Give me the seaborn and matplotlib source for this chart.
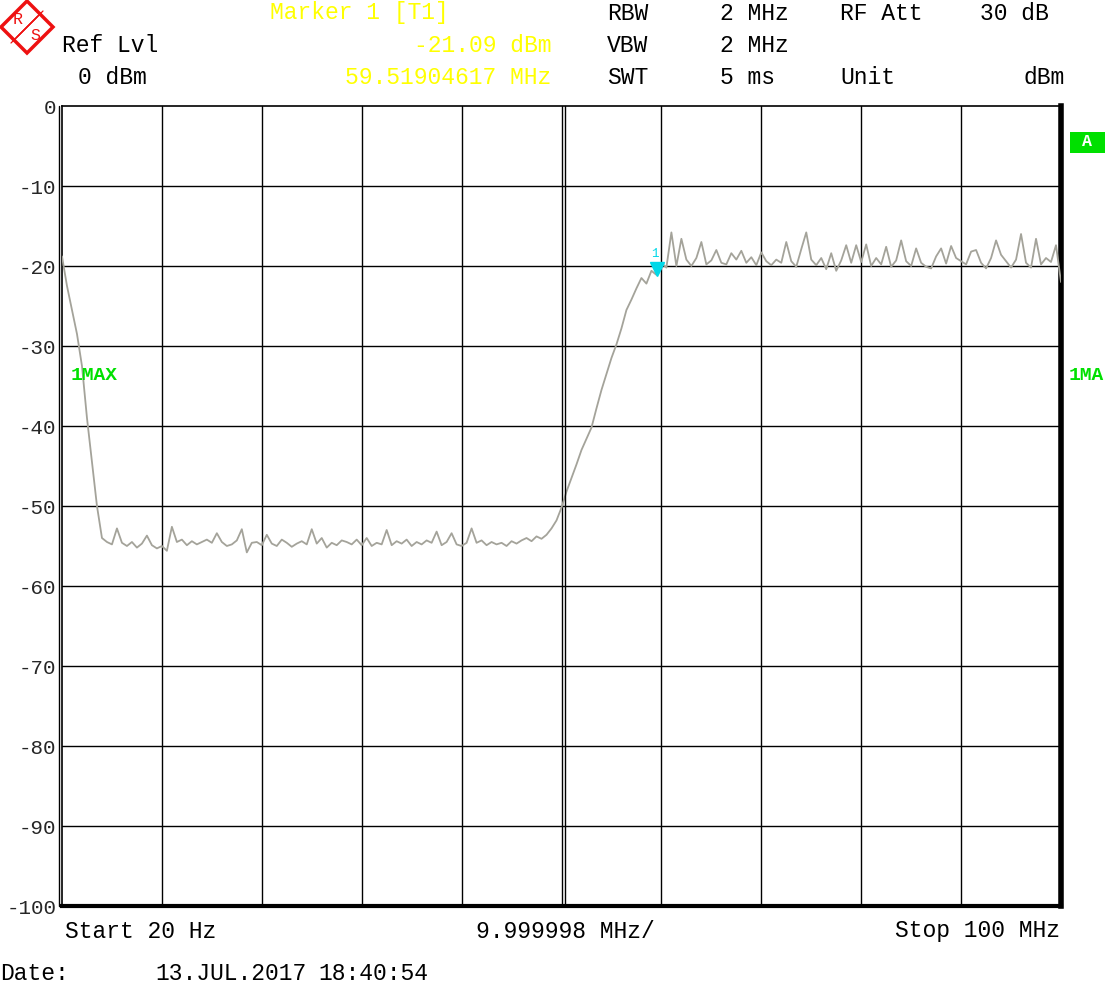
import numpy as np
import pandas as pd
import matplotlib
matplotlib.use("Agg")
import matplotlib.pyplot as plt
import matplotlib.transforms as mtransforms
from matplotlib.patches import Polygon, Rectangle
import seaborn as sns

# ---------------- data ----------------
start_mhz = 0.00002
stop_mhz = 100.0
level_dbm = [
    # 0 .. 4 MHz (roll-off)
    -18.8, -22.5, -25.5, -28.5, -32.5, -39.0, -44.5, -50.0, -54.0,
    # 4.5 .. 48 MHz (floor)
    -54.5, -54.8, -52.8, -54.6, -55.0, -54.5, -55.2, -54.7, -53.7, -54.9,
    -55.3, -55.0, -55.6, -52.6, -54.5, -54.2, -54.9, -54.4, -54.8, -54.5,
    -54.2, -54.6, -53.4, -54.5, -55.0, -54.8, -54.3, -52.9, -55.8, -54.6,
    -54.5, -54.9, -53.6, -54.7, -55.0, -54.2, -54.6, -55.1, -54.7, -54.4,
    -54.8, -52.9, -54.7, -54.0, -55.2, -54.6, -54.9, -54.3, -54.5, -54.8,
    -54.2, -54.9, -54.0, -55.0, -54.6, -54.8, -53.0, -54.9, -54.4, -54.7,
    -54.2, -55.0, -54.5, -54.8, -54.3, -54.6, -53.2, -54.9, -54.5, -53.4,
    -54.8, -55.0, -54.6, -52.8, -54.6, -54.3, -54.9, -54.5, -54.8, -54.6,
    -55.0, -54.4, -54.7, -54.3, -54.0, -54.4, -53.8, -54.1,
    # 48.5 .. 59.5 MHz (rising edge)
    -53.6, -52.8, -51.8, -50.2, -48.2, -46.5, -44.8, -43.0, -41.6, -40.2,
    -37.8, -35.5, -33.5, -31.5, -29.8, -27.8, -25.5, -24.2, -22.8, -21.5,
    -22.2, -20.6, -21.1,
    # 60 .. 100 MHz (pass band)
    -19.6, -20.2, -15.8, -20.0, -16.6, -19.2, -20.0, -19.0, -17.0, -19.8,
    -19.3, -18.0, -19.6, -19.8, -18.4, -19.2, -18.1, -19.6, -18.9, -19.9,
    -18.3, -19.4, -19.9, -19.2, -19.6, -17.0, -19.4, -20.1, -17.9, -15.8,
    -19.2, -19.9, -19.0, -20.4, -18.4, -20.6, -19.3, -17.4, -19.6, -17.4,
    -19.5, -17.3, -20.0, -19.0, -19.8, -17.6, -20.1, -19.3, -16.8, -19.4,
    -20.0, -17.8, -19.6, -20.1, -20.3, -18.8, -17.8, -19.7, -17.5, -19.0,
    -19.4, -19.8, -18.2, -18.0, -19.6, -20.3, -19.0, -16.8, -18.6, -19.4,
    -20.2, -19.2, -16.0, -19.6, -20.2, -16.6, -19.8, -19.0, -19.5, -17.4,
    -22.0,
]
marker_freq_mhz = [59.51904617]
marker_level_dbm = [-21.09]
y_ticks = [0, -10, -20, -30, -40, -50, -60, -70, -80, -90, -100]
x_grid = [10, 20, 30, 40, 50, 60, 70, 80, 90]

freq_mhz = np.linspace(start_mhz, stop_mhz, len(level_dbm))  # sweep points
df = pd.DataFrame({"freq": freq_mhz, "level": level_dbm})

# ---------------- figure ----------------
W, H = 1120, 986
sns.set_theme(style="white")
plt.rcParams["font.family"] = ["Liberation Mono", "DejaVu Sans Mono"]
fig = plt.figure(figsize=(W / 100, H / 100), dpi=100)
fig.patch.set_facecolor("white")


def fx(x):
    return x / W


def fy(y):
    return 1 - y / H


L, R, T, B = 62, 1061, 106, 906
ax = fig.add_axes([fx(L), fy(B), fx(R) - fx(L), fy(T) - fy(B)])
ax.set_facecolor("white")

# grid
for g in x_grid:
    ax.axvline(g, color="black", lw=1.0, zorder=1)
for t in y_ticks[1:-1]:
    ax.axhline(t, color="black", lw=1.0, zorder=1)

# trace
sns.lineplot(data=df, x="freq", y="level", ax=ax, color="#a4a39a",
             lw=1.3, zorder=3, legend=False)

# double lines (left edge and center)
off_l = mtransforms.offset_copy(ax.transData, fig=fig, x=-3, y=0, units="dots")
ax.plot([0, 0], [0, -100], color="black", lw=1.0, transform=off_l,
        clip_on=False, zorder=4)
off_c = mtransforms.offset_copy(ax.transData, fig=fig, x=3, y=0, units="dots")
ax.plot([50, 50], [0, -100], color="black", lw=1.0, transform=off_c,
        clip_on=False, zorder=4)

# marker
off_m = mtransforms.offset_copy(ax.transData, fig=fig, x=0, y=6, units="dots")
ax.plot(marker_freq_mhz, marker_level_dbm, marker="v", color="#00d8e8",
        markersize=10, linestyle="none", transform=off_m, zorder=6)
ax.text(marker_freq_mhz[0] - 0.2, marker_level_dbm[0] + 2.6, "1",
        color="#00d8e8", fontsize=9, ha="center", va="center", zorder=6)

ax.set_xlim(0, 100)
ax.set_ylim(-100, 0)
ax.set_xticks([])
ax.set_yticks(y_ticks)
ax.set_yticklabels([str(t) for t in y_ticks])
ax.tick_params(axis="y", length=0, pad=4, labelsize=15)
ax.set_xlabel("")
ax.set_ylabel("")
for side, lw in (("left", 1.2), ("top", 1.2), ("right", 4.0), ("bottom", 3.0)):
    ax.spines[side].set_visible(True)
    ax.spines[side].set_color("black")
    ax.spines[side].set_linewidth(lw)

# ---------------- header texts ----------------
FS = 16.6
YEL = "#ffff00"


def txt(x, y, s, ha="left", color="black", size=FS, **kw):
    fig.text(fx(x), fy(y), s, ha=ha, va="center", color=color,
             fontsize=size, **kw)


txt(62, 45, "Ref Lvl")
txt(78, 77, "0 dBm")
txt(270, 13, "Marker 1 [T1]", color=YEL)
txt(551, 45, "-21.09 dBm", ha="right", color=YEL)
txt(551, 77, "59.51904617 MHz", ha="right", color=YEL)
txt(607, 13, "RBW")
txt(720, 13, "2 MHz")
txt(840, 13, "RF Att")
txt(980, 13, "30 dB")
txt(607, 45, "VBW")
txt(720, 45, "2 MHz")
txt(607, 77, "SWT")
txt(720, 77, "5 ms")
txt(840, 77, "Unit")
txt(1065, 77, "dBm", ha="right")

# bottom texts
txt(65, 931, "Start 20 Hz")
txt(476, 931, "9.999998 MHz/")
txt(1060, 931, "Stop 100 MHz", ha="right")
txt(0, 974, "Date:")
txt(155, 974, "13.JUL.2017")
txt(318, 974, "18:40:54")

# green trace labels
GRN = "#00e000"
txt(71, 376, "1MAX", color=GRN, size=14, fontweight="bold")
txt(1069, 376, "1MA", color=GRN, size=14, fontweight="bold")
fig.patches.append(Rectangle((fx(1070), fy(153)), fx(35), fy(132) - fy(153),
                             transform=fig.transFigure, facecolor=GRN,
                             edgecolor="none"))
txt(1087, 142, "A", ha="center", color="white", size=12, fontweight="bold")

# R&S logo
cx, cy, r = 27, 27, 26
diamond = [(fx(cx), fy(cy - r)), (fx(cx + r), fy(cy)),
           (fx(cx), fy(cy + r)), (fx(cx - r), fy(cy))]
fig.patches.append(Polygon(diamond, closed=True, transform=fig.transFigure,
                           facecolor="white", edgecolor="#ee1111", lw=2.5))
for d in (-3, -1, 1, 3):
    fig.lines.append(plt.Line2D([fx(cx - r / 2 + d), fx(cx + r / 2 + d)],
                                [fy(cy + r / 2 - d), fy(cy - r / 2 - d)],
                                transform=fig.transFigure, color="#ee1111",
                                lw=0.9))
txt(18, 19, "R", ha="center", color="#ee1111", size=12)
txt(35, 35, "S", ha="center", color="#ee1111", size=12)

fig.savefig("out.png", dpi=100, facecolor="white")
